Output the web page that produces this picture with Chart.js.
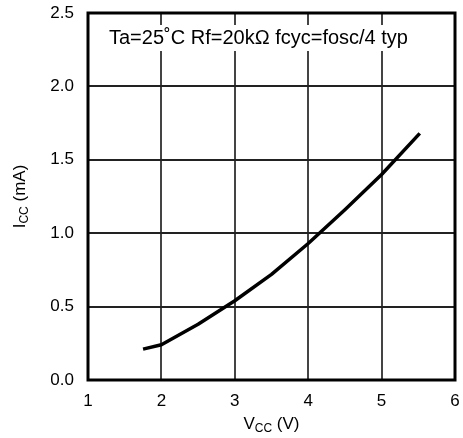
<!DOCTYPE html>
<html>
<head>
<meta charset="utf-8">
<script src="https://cdn.jsdelivr.net/npm/chart.js@4/dist/chart.umd.min.js"></script>
<style>
  html, body { margin: 0; padding: 0; background: #fff; }
  #wrap { width: 463px; height: 438px; }
</style>
</head>
<body>
<div id="wrap"><canvas id="iccChart" width="463" height="438"></canvas></div>
<script>
// Supply current vs supply voltage
const vccVolts = [1.75, 2.0, 2.25, 2.5, 2.75, 3.0, 3.5, 4.0, 4.5, 5.0, 5.52];
const iccMilliamps = [0.21, 0.24, 0.31, 0.38, 0.46, 0.54, 0.72, 0.93, 1.16, 1.40, 1.68];
const xTicks = [1, 2, 3, 4, 5, 6];
const yTicks = [0, 0.5, 1.0, 1.5, 2.0, 2.5];
const noteText = "Ta=25\u02DAC Rf=20k\u03A9 fcyc=fosc/4 typ";

const FONT = "Liberation Sans, Arial, sans-serif";

// text with a subscript part, e.g. I + CC + " (mA)"
function subText(ctx, parts, x, y) {
  let total = 0;
  parts.forEach(p => {
    ctx.font = (p.sub ? "12px " : "17px ") + FONT;
    p.w = ctx.measureText(p.t).width;
    total += p.w;
  });
  let cx = x - total / 2;
  parts.forEach(p => {
    ctx.font = (p.sub ? "12px " : "17px ") + FONT;
    ctx.fillText(p.t, cx, y + (p.sub ? 5 : 0));
    cx += p.w;
  });
}

const framePlugin = {
  id: "frame",
  afterDraw(chart) {
    const ctx = chart.ctx;
    const a = chart.chartArea;
    ctx.save();
    // annotation with white box behind
    ctx.font = "20px " + FONT;
    const w = ctx.measureText(noteText).width;
    const tx = a.left + 21, ty = a.top + 25;
    ctx.fillStyle = "#fff";
    ctx.fillRect(tx - 3, ty - 13, w + 6, 26);
    ctx.fillStyle = "#000";
    ctx.textBaseline = "middle";
    ctx.textAlign = "left";
    ctx.fillText(noteText, tx, ty);

    // outer frame
    ctx.strokeStyle = "#000";
    ctx.lineWidth = 3;
    ctx.strokeRect(a.left, a.top, a.right - a.left, a.bottom - a.top);

    // axis titles
    ctx.textBaseline = "middle";
    subText(ctx, [{ t: "V" }, { t: "CC", sub: true }, { t: " (V)" }], (a.left + a.right) / 2, 424);
    ctx.translate(20, (a.top + a.bottom) / 2);
    ctx.rotate(-Math.PI / 2);
    subText(ctx, [{ t: "I" }, { t: "CC", sub: true }, { t: " (mA)" }], 0, 0);
    ctx.restore();
  }
};

new Chart(document.getElementById("iccChart"), {
  type: "scatter",
  data: {
    datasets: [{
      data: vccVolts.map((v, i) => ({ x: v, y: iccMilliamps[i] })),
      showLine: true,
      borderColor: "#000",
      borderWidth: 3.5,
      pointRadius: 0,
      tension: 0,
      borderCapStyle: "butt",
      borderJoinStyle: "round"
    }]
  },
  options: {
    responsive: false,
    animation: false,
    layout: { padding: { top: 13, right: 8, left: 0, bottom: 0 } },
    plugins: { legend: { display: false }, tooltip: { enabled: false } },
    scales: {
      x: {
        type: "linear",
        min: 1, max: 6,
        afterBuildTicks: s => { s.ticks = xTicks.map(v => ({ value: v })); },
        afterFit: s => { s.height = 58; s.paddingLeft = 0; s.paddingRight = 0; },
        grid: { color: "#444", lineWidth: 2, drawTicks: false },
        border: { display: false },
        ticks: { color: "#000", padding: 11, font: { family: FONT, size: 17 }, callback: v => String(v) }
      },
      y: {
        type: "linear",
        min: 0, max: 2.5,
        afterBuildTicks: s => { s.ticks = yTicks.map(v => ({ value: v })); },
        afterFit: s => { s.width = 88; s.paddingTop = 0; s.paddingBottom = 0; },
        grid: { color: "#222", lineWidth: 2, drawTicks: false },
        border: { display: false },
        ticks: { color: "#000", padding: 14, font: { family: FONT, size: 17 }, callback: v => v.toFixed(1) }
      }
    }
  },
  plugins: [framePlugin]
});
</script>
</body>
</html>
